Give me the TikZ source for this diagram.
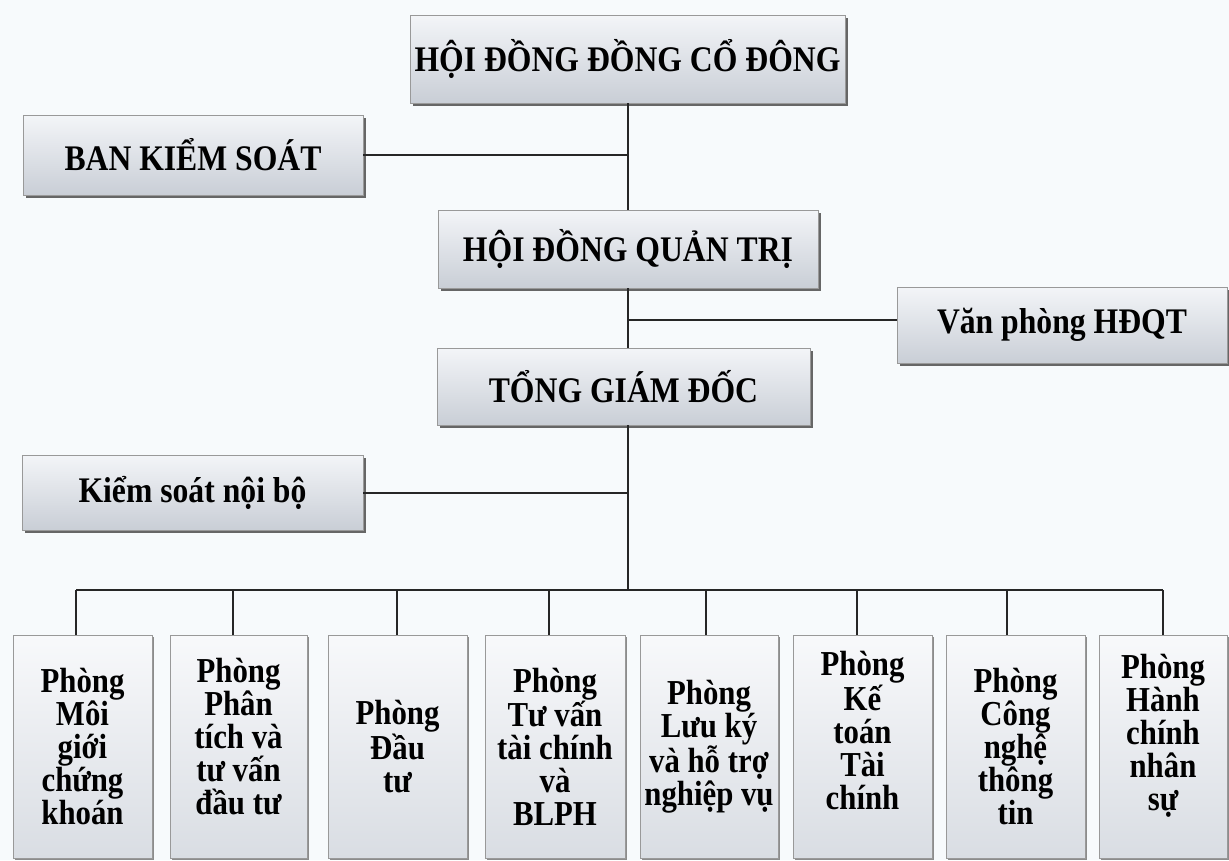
\documentclass[tikz,border=0pt]{standalone}
\usepackage{fontspec}
\setmainfont{Liberation Serif}[FakeStretch=0.88]
\usetikzlibrary{shadows}
\definecolor{bg}{HTML}{F7FAFC}
\definecolor{boxtop}{HTML}{F3F5F8}
\definecolor{boxbot}{HTML}{C9CED6}
\definecolor{depttop}{HTML}{F8F9FB}
\definecolor{deptbot}{HTML}{D9DDE3}
\begin{document}
\begin{tikzpicture}[x=1pt,y=-1pt,
  box/.style={draw=black!40, line width=0.8pt, top color=boxtop, bottom color=boxbot,
    drop shadow={shadow xshift=3pt, shadow yshift=-3pt, fill=black!60, opacity=1},
    inner sep=0pt, align=center, font=\fontsize{36}{40}\selectfont\bfseries},
  dept/.style={draw=black!40, line width=0.8pt, top color=depttop, bottom color=deptbot,
    drop shadow={shadow xshift=2pt, shadow yshift=-2pt, fill=black!45, opacity=1},
    inner sep=0pt, minimum height=223pt},
  depttext/.style={inner sep=0pt, align=center, font=\fontsize{35}{33}\selectfont\bfseries},
  conn/.style={line width=2pt, draw=black!85}]
\useasboundingbox (0,0) rectangle (1229,860);
\fill[bg] (0,0) rectangle (1229,860);

% top-level boxes
\node[box, minimum width=435pt, minimum height=88pt] (hdcd) at (627.5,59) {HỘI ĐỒNG ĐỒNG CỔ ĐÔNG};
\node[box, minimum width=340pt, minimum height=80pt] (bks) at (193,155) {BAN KIỂM SOÁT};
\node[box, minimum width=380pt, minimum height=78pt] (hdqt) at (628,249) {HỘI ĐỒNG QUẢN TRỊ};
\node[box, minimum width=330pt, minimum height=76pt] (vp) at (1062,325) {Văn phòng HĐQT};
\node[box, minimum width=373pt, minimum height=77pt] (tgd) at (623.5,386.5) {TỔNG GIÁM ĐỐC};
\node[box, minimum width=341pt, minimum height=75pt] (ksnb) at (192.5,492.5) {Kiểm soát nội bộ};

% departments
\node[dept, minimum width=139pt] (d1) at (82.5,746.5) {};
\node[dept, minimum width=137pt] (d2) at (238.5,746.5) {};
\node[dept, minimum width=139pt] (d3) at (397.5,746.5) {};
\node[dept, minimum width=140pt] (d4) at (555,746.5) {};
\node[dept, minimum width=138pt] (d5) at (709,746.5) {};
\node[dept, minimum width=139pt] (d6) at (862.5,746.5) {};
\node[dept, minimum width=139pt] (d7) at (1015.5,746.5) {};
\node[dept, minimum width=128pt] (d8) at (1163,746.5) {};

\node[depttext] (t1) at (d1.center) {Phòng\\Môi\\giới\\chứng\\khoán};
\node[depttext] (t2) at ([yshift=10pt]d2.center) {Phòng\\Phân\\tích và\\tư vấn\\đầu tư};
\node[depttext] (t3) at (d3.center) {Phòng\\Đầu\\tư};
\node[depttext] (t4) at (d4.center) {Phòng\\Tư vấn\\tài chính\\và\\BLPH};
\node[depttext] (t5) at (d5.center) {Phòng\\Lưu ký\\và hỗ trợ\\nghiệp vụ};
\node[depttext] (t6) at ([yshift=16pt]d6.center) {Phòng\\Kế\\toán\\Tài\\chính};
\node[depttext] (t7) at (d7.center) {Phòng\\Công\\nghệ\\thông\\tin};
\node[depttext] (t8) at ([yshift=11pt]d8.center) {Phòng\\Hành\\chính\\nhân\\sự};

% connector points
\coordinate (j1) at (628,157);
\coordinate (j2) at (628,320);
\coordinate (j3) at (628,487);
\coordinate (bus) at (628,590);
\coordinate (k1) at (76,590);
\coordinate (k2) at (233,590);
\coordinate (k3) at (397,590);
\coordinate (k4) at (549,590);
\coordinate (k5) at (706,590);
\coordinate (k6) at (857,590);
\coordinate (k7) at (1007,590);
\coordinate (k8) at (1163,590);

\begin{scope}[on background layer/.style={}]
\draw[conn] (hdcd.south -| j1) -- (hdqt.north -| j1);
\draw[conn] (bks.east) -- (bks.east -| j1);
\draw[conn] (hdqt.south -| j2) -- (tgd.north -| j2);
\draw[conn] (j2) -- (vp.west |- j2);
\draw[conn] (tgd.south -| j3) -- (bus);
\draw[conn] (ksnb.east) -- (ksnb.east -| j3);
\draw[conn] (k1) -- (k8);
\foreach \i in {1,...,8} {
  \draw[conn] (k\i) -- (k\i |- d\i.north);
}
\end{scope}
\end{tikzpicture}
\end{document}
